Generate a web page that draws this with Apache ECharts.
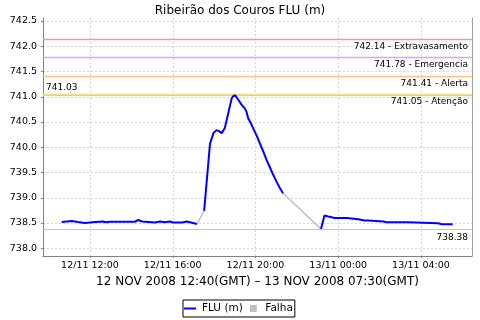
<!DOCTYPE html>
<html><head><meta charset="utf-8">
<script src="https://cdn.jsdelivr.net/npm/echarts@6/dist/echarts.min.js"></script>
<style>html,body{margin:0;padding:0;background:#fff}#c{width:480px;height:320px}</style>
</head><body><div id="c"></div>
<script>
// ---- data ----
const titleText = 'Ribeirão dos Couros FLU (m)';
const xAxisTitle = '12 NOV 2008 12:40(GMT) – 13 NOV 2008 07:30(GMT)';
const fluTimes = [
  '12/11 10:38','12/11 11:08','12/11 11:25','12/11 11:45','12/11 12:15','12/11 12:38','12/11 12:46','12/11 12:58',
  '12/11 14:10','12/11 14:20','12/11 14:31','12/11 15:08','12/11 15:23','12/11 15:37','12/11 15:52','12/11 16:01',
  '12/11 16:27','12/11 16:40','12/11 16:53','12/11 17:10',
  '12/11 17:20',
  '12/11 17:31','12/11 17:48','12/11 17:58','12/11 18:07','12/11 18:14','12/11 18:22','12/11 18:31','12/11 18:51',
  '12/11 18:55','12/11 19:01','12/11 19:06','12/11 19:20','12/11 19:29','12/11 19:34','12/11 19:39','12/11 19:44',
  '12/11 19:53','12/11 20:04','12/11 20:13','12/11 20:23','12/11 20:32','12/11 20:42','12/11 20:51','12/11 21:01',
  '12/11 21:11','12/11 21:20',
  '12/11 22:15',
  '12/11 23:10','12/11 23:20','12/11 23:31','12/11 23:36','12/11 23:50','13/11 00:25','13/11 00:29','13/11 00:58',
  '13/11 01:17','13/11 01:27','13/11 01:32','13/11 02:11','13/11 02:20','13/11 03:23','13/11 03:28','13/11 04:50',
  '13/11 05:00','13/11 05:32'
];
const fluValues = [
  738.52,738.54,738.52,738.50,738.52,738.53,738.515,738.525,
  738.525,738.56,738.53,738.51,738.53,738.515,738.53,738.51,
  738.51,738.53,738.51,738.48,
  null,
  738.74,740.07,740.28,740.34,740.32,740.28,740.38,740.97,
  741.01,741.03,741.00,740.84,740.77,740.70,740.57,740.51,
  740.38,740.22,740.07,739.91,739.75,739.60,739.46,739.32,
  739.19,739.09,
  null,
  738.38,738.65,738.63,738.61,738.60,738.60,738.58,738.575,
  738.55,738.55,738.54,738.53,738.515,738.515,738.495,738.495,
  738.475,738.475
];
const falhaTimes = ['12/11 17:10','12/11 17:31','12/11 19:00','12/11 21:20','12/11 23:10'];
const falhaValues = [738.48,738.74,null,739.09,738.38];
const levelValues = [742.14, 741.78, 741.41, 741.05];
const levelNames = ['Extravasamento', 'Emergencia', 'Alerta', 'Atenção'];
const maxValue = 741.03;
const minValue = 738.38;
const xTickTimes = ['12/11 12:00','12/11 16:00','12/11 20:00','13/11 00:00','13/11 04:00'];
const yTicks = [738.0,738.5,739.0,739.5,740.0,740.5,741.0,741.5,742.0,742.5];

// ---- helpers ----
function toHours(s){ // hours since 12/11 00:00
  const [d, t] = s.split(' ');
  const day = parseInt(d.split('/')[0], 10);
  const [H, M] = t.split(':').map(Number);
  return (day - 12) * 24 + H + M / 60;
}
function fmtHours(h){
  const day = h >= 24 ? '13/11' : '12/11';
  const hh = Math.floor(h % 24), mm = Math.round((h - Math.floor(h)) * 60);
  return day + ' ' + String(hh).padStart(2,'0') + ':' + String(mm).padStart(2,'0');
}
const xTicks = xTickTimes.map(toHours);
const fluData = fluTimes.map((t,i)=>[toHours(t), fluValues[i]]);
const falhaData = falhaTimes.map((t,i)=>[toHours(t), falhaValues[i]]);

const FONT = 'DejaVu Sans';
const levelColors = ['#f09a9a', '#ec9cec', '#ffc382', '#f7df7a'];
const markData = [
  { yAxis: maxValue, lineStyle:{color:'#c8c8c8', width:1, type:'solid'},
    label:{show:true, position:'insideStartTop', formatter: maxValue.toFixed(2), distance:[3,3]} },
  { yAxis: minValue, lineStyle:{color:'#c4c4c4', width:1, type:'solid'},
    label:{show:true, position:'insideEndBottom', formatter: minValue.toFixed(2), distance:[4,4]} }
].concat(levelValues.map((v,i)=>({
  yAxis: v, lineStyle:{color: levelColors[i], width:1.3, type:'solid'},
  label:{show:true, position:'insideEndBottom', formatter: v.toFixed(2) + ' - ' + levelNames[i], distance:[4,3]}
})));

const chart = echarts.init(document.getElementById('c'), null, {renderer:'canvas'});
chart.setOption({
  animation: false,
  backgroundColor: '#fff',
  title: { text: titleText, left: 'center', top: 0,
    textStyle: { fontFamily: FONT, fontSize: 12, fontWeight: 'normal', color: '#000' } },
  grid: { left: 43, right: 8, top: 18, bottom: 64 },
  legend: {
    left: 183, top: 300, orient: 'horizontal',
    borderColor: '#000', borderWidth: 1, padding: [3, 2, 3, 1],
    itemGap: 7, itemWidth: 12, itemHeight: 7,
    textStyle: { fontFamily: FONT, fontSize: 10.5, color: '#000', padding:[0,0,0,1] },
    data: [ {name:'FLU (m)', icon:'path://M0,0h12v2h-12z'}, {name:'Falha', icon:'path://M0,0h10v10h-10z'} ]
  },
  xAxis: {
    type: 'value', min: 9.728, max: 30.465,
    name: xAxisTitle, nameLocation: 'middle', nameGap: 19,
    nameTextStyle: { fontFamily: FONT, fontSize: 12, color: '#000' },
    axisLine: { show: true, lineStyle: { color: '#808080', width: 1 } },
    axisTick: { show: true, length: 2, customValues: xTicks, lineStyle: { color: '#808080' } },
    axisLabel: { customValues: xTicks, formatter: v => fmtHours(v), margin: 5,
      fontFamily: FONT, fontSize: 9.5, color: '#000' },
    splitLine: { show: true, lineStyle: { color: '#d6d6d6', type: [2,2], width: 1 } }
  },
  yAxis: [{
    type: 'value', min: 737.847, max: 742.56,
    axisLine: { show: true, lineStyle: { color: '#808080', width: 1 } },
    axisTick: { show: true, length: 2, customValues: yTicks, lineStyle: { color: '#808080' } },
    axisLabel: { customValues: yTicks, formatter: v => v.toFixed(1), margin: 6,
      fontFamily: FONT, fontSize: 9.5, color: '#000' },
    splitLine: { show: true, lineStyle: { color: '#d6d6d6', type: [2,2], width: 1 } }
  }, {
    type: 'value', min: 737.847, max: 742.56, position: 'right',
    axisLine: { show: true, lineStyle: { color: '#a0a0a0', width: 1 } },
    axisTick: { show: false }, axisLabel: { show: false }, splitLine: { show: false }
  }],
  series: [
    {
      name: 'Falha', type: 'line', data: falhaData, symbol: 'none', showSymbol: false,
      color: '#c0c0c0', lineStyle: { color: '#c0c0c0', width: 1.5 }, connectNulls: false, z: 2,
      markLine: {
        silent: true, symbol: ['none','none'], animation: false,
        label: { fontFamily: FONT, fontSize: 9, color: '#000' },
        data: markData
      }
    },
    {
      name: 'FLU (m)', type: 'line', data: fluData, symbol: 'none', showSymbol: false,
      color: '#0000ff', lineStyle: { color: '#0000ff', width: 2 }, connectNulls: false, z: 5
    }
  ]
});
</script></body></html>
